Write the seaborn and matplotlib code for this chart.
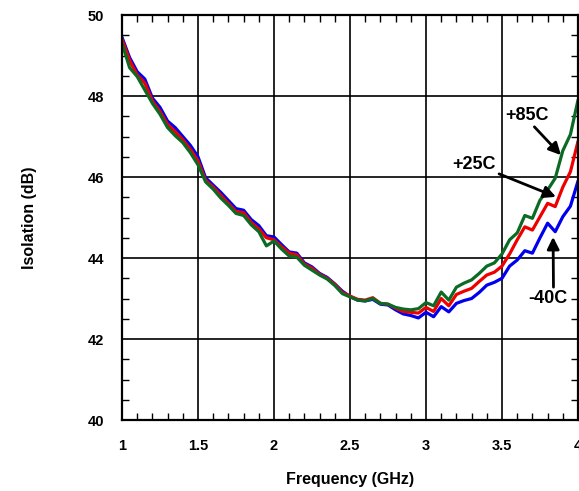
import numpy as np
import pandas as pd
import seaborn as sns
import matplotlib
matplotlib.use("Agg")
import matplotlib.pyplot as plt
from matplotlib.ticker import MultipleLocator, FuncFormatter

# Frequency points (GHz)
freq = [1.00, 1.05, 1.10, 1.15, 1.20, 1.25, 1.30, 1.35, 1.40, 1.45,
        1.50, 1.55, 1.60, 1.65, 1.70, 1.75, 1.80, 1.85, 1.90, 1.95,
        2.00, 2.05, 2.10, 2.15, 2.20, 2.25, 2.30, 2.35, 2.40, 2.45,
        2.50, 2.55, 2.60, 2.65, 2.70, 2.75, 2.80, 2.85, 2.90, 2.95,
        3.00, 3.05, 3.10, 3.15, 3.20, 3.25, 3.30, 3.35, 3.40, 3.45,
        3.50, 3.55, 3.60, 3.65, 3.70, 3.75, 3.80, 3.85, 3.90, 3.95,
        4.00]

# Isolation (dB)
iso_m40 = [49.45, 48.95, 48.60, 48.42, 47.95, 47.72, 47.38, 47.22, 47.00, 46.78,
           46.50, 45.98, 45.80, 45.62, 45.42, 45.22, 45.18, 44.95, 44.80, 44.55,
           44.52, 44.33, 44.15, 44.12, 43.88, 43.78, 43.62, 43.52, 43.36, 43.18,
           43.05, 42.96, 42.94, 42.98, 42.86, 42.84, 42.72, 42.62, 42.58, 42.52,
           42.66, 42.55, 42.80, 42.67, 42.88, 42.95, 43.00, 43.15, 43.33, 43.40,
           43.50, 43.80, 43.95, 44.18, 44.12, 44.50, 44.86, 44.65, 45.02, 45.28,
           45.90]
iso_25 = [49.40, 48.88, 48.52, 48.32, 47.88, 47.62, 47.30, 47.12, 46.92, 46.68,
          46.40, 45.92, 45.75, 45.55, 45.35, 45.15, 45.12, 44.88, 44.72, 44.50,
          44.45, 44.28, 44.12, 44.08, 43.85, 43.75, 43.60, 43.50, 43.35, 43.15,
          43.06, 42.98, 42.96, 43.02, 42.88, 42.86, 42.76, 42.68, 42.66, 42.64,
          42.78, 42.68, 43.00, 42.82, 43.10, 43.18, 43.25, 43.42, 43.58, 43.65,
          43.80, 44.10, 44.45, 44.77, 44.69, 45.02, 45.35, 45.27, 45.75, 46.13,
          46.88]
iso_85 = [49.30, 48.70, 48.48, 48.15, 47.82, 47.55, 47.22, 47.02, 46.85, 46.60,
          46.30, 45.88, 45.70, 45.48, 45.30, 45.10, 45.05, 44.82, 44.65, 44.30,
          44.42, 44.22, 44.05, 44.02, 43.82, 43.70, 43.58, 43.48, 43.32, 43.12,
          43.04, 42.96, 42.94, 43.00, 42.88, 42.86, 42.78, 42.74, 42.72, 42.75,
          42.90, 42.82, 43.16, 42.96, 43.28, 43.38, 43.46, 43.62, 43.80, 43.88,
          44.10, 44.45, 44.62, 45.05, 44.98, 45.43, 45.68, 45.97, 46.65, 47.05,
          47.90]

temps = ["-40C", "+25C", "+85C"]
colors = {"-40C": "#0000ee", "+25C": "#ee0000", "+85C": "#0b6b25"}

df = pd.concat([
    pd.DataFrame({"Frequency": freq, "Isolation": iso_m40, "Temp": "-40C"}),
    pd.DataFrame({"Frequency": freq, "Isolation": iso_25, "Temp": "+25C"}),
    pd.DataFrame({"Frequency": freq, "Isolation": iso_85, "Temp": "+85C"}),
])

sns.set_style("white")
plt.rcParams["font.family"] = ["Liberation Sans", "DejaVu Sans"]
plt.rcParams["font.weight"] = "bold"
plt.rcParams["text.color"] = "black"
plt.rcParams["axes.labelcolor"] = "black"
plt.rcParams["xtick.color"] = "black"
plt.rcParams["ytick.color"] = "black"

fig = plt.figure(figsize=(5.79, 4.91), dpi=100)
ax = fig.add_axes([0.2107, 0.1446, 0.7876, 0.8248])

sns.lineplot(data=df, x="Frequency", y="Isolation", hue="Temp",
             hue_order=temps, palette=colors, linewidth=2.3,
             legend=False, ax=ax)

ax.set_xlim(1, 4)
ax.set_ylim(40, 50)
ax.xaxis.set_major_locator(MultipleLocator(0.5))
ax.xaxis.set_minor_locator(MultipleLocator(0.1))
ax.yaxis.set_major_locator(MultipleLocator(2))
ax.yaxis.set_minor_locator(MultipleLocator(0.5))
ax.xaxis.set_major_formatter(FuncFormatter(lambda v, p: "%g" % v))
ax.grid(True, which="major", color="black", linewidth=1.2)
ax.set_axisbelow(True)
ax.tick_params(which="major", length=0, labelsize=10.5, labelcolor="black")
ax.tick_params(axis="x", which="major", pad=14)
ax.tick_params(axis="y", which="major", pad=13)
ax.tick_params(which="minor", direction="in", length=5, width=1, color="black",
               top=True, right=True, bottom=True, left=True)
for lab in ax.get_xticklabels() + ax.get_yticklabels():
    lab.set_fontweight("bold")
for s in ax.spines.values():
    s.set_color("black")
    s.set_linewidth(1.6)

ax.set_xlabel("Frequency (GHz)", fontsize=11.5, fontweight="bold", color="black")
ax.set_ylabel("Isolation (dB)", fontsize=11.5, fontweight="bold", color="black")
ax.xaxis.set_label_coords(0.5, -0.128)
ax.yaxis.set_label_coords(-0.186, 0.5)

arrow = dict(arrowstyle="-|>", color="black", lw=2, mutation_scale=18,
             shrinkA=0, shrinkB=0)
ax.annotate("+85C", xy=(3.888, 46.54), xytext=(3.664, 47.53),
            fontsize=13, fontweight="bold", ha="center", va="center",
            color="black", arrowprops=dict(arrow, relpos=(0.6, 0.0)))
ax.annotate("+25C", xy=(3.855, 45.51), xytext=(3.316, 46.32),
            fontsize=13, fontweight="bold", ha="center", va="center",
            color="black", arrowprops=dict(arrow, relpos=(1.0, 0.0)))
ax.annotate("-40C", xy=(3.836, 44.52), xytext=(3.80, 42.99),
            fontsize=13, fontweight="bold", ha="center", va="center",
            color="black", arrowprops=dict(arrow, relpos=(0.65, 1.0)))

fig.savefig("out.png", dpi=100)
